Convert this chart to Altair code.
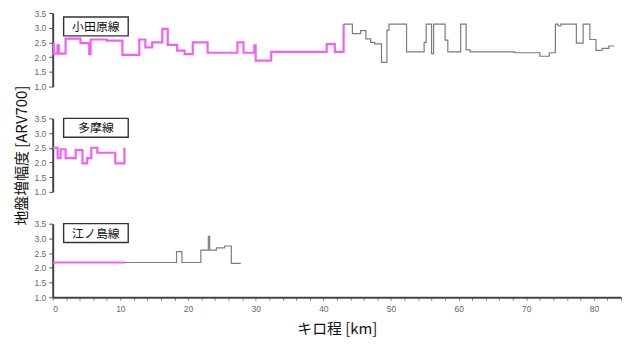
import altair as alt
import pandas as pd

line_names = ["小田原線", "多摩線", "江ノ島線"]

# 小田原線 (pink part, then gray part)
odakyu_pink_km = [0, 0.15, 0.7, 0.9, 1.9, 4.1, 5.4, 5.6, 8.0, 10.3, 12.8, 13.7, 14.7,
                  16.2, 17.0, 18.4, 19.5, 20.7, 22.9, 27.3, 28.2, 29.8, 30.0, 32.3,
                  40.5, 41.7, 43.0]
odakyu_pink_val = [2.45, 2.12, 2.4, 2.12, 2.63, 2.48, 2.1, 2.6, 2.56, 2.08, 2.6, 2.33, 2.5,
                   2.96, 2.42, 2.22, 2.1, 2.5, 2.15, 2.5, 2.15, 2.4, 1.88, 2.18,
                   2.44, 2.18, 3.12]
odakyu_gray_km = [43.0, 44.3, 45.5, 46.3, 47.0, 47.6, 48.6, 49.4, 49.7, 52.3, 54.9, 55.2,
                  56.0, 56.3, 58.0, 58.4, 60.3, 61.1, 61.7, 68.3, 72.0, 73.4, 74.3,
                  74.7, 75.1, 77.4, 78.4, 79.4, 80.3, 81.2, 82.2, 83.0]
odakyu_gray_val = [3.12, 2.8, 2.9, 2.62, 2.5, 2.45, 1.82, 2.92, 3.12, 2.18, 2.5, 3.12,
                   2.12, 3.12, 2.58, 2.18, 3.12, 2.25, 2.18, 2.15, 2.03, 2.15, 3.12,
                   3.06, 3.12, 2.48, 3.12, 2.6, 2.23, 2.3, 2.38, 2.38]

# 多摩線
tama_km = [0, 0.73, 1.17, 1.9, 3.4, 4.4, 5.1, 5.7, 6.6, 9.25, 10.6]
tama_val = [2.5, 2.15, 2.45, 2.15, 2.42, 1.97, 2.15, 2.5, 2.33, 1.97, 2.5]

# 江ノ島線
enoshima_pink_km = [0, 10.7]
enoshima_pink_val = [2.18, 2.18]
enoshima_gray_km = [10.7, 18.3, 19.1, 21.9, 23.0, 23.2, 24.2, 25.4, 26.4, 27.8]
enoshima_gray_val = [2.18, 2.55, 2.18, 2.6, 3.07, 2.6, 2.68, 2.74, 2.15, 2.15]

x_ticks = list(range(0, 85, 2))
y_ticks = [1.0, 1.5, 2.0, 2.5, 3.0, 3.5]

X_DOMAIN = [0, 84]
Y_DOMAIN = [1.0, 3.5]
W, H = 572, 74
PINK = "#f35ef3"
GRAY = "#7c7c7c"
LABEL_FONT = "Liberation Sans"
JP = "Noto Sans CJK JP"


def y_axis(title):
    kw = dict(values=y_ticks, format=".1f", labelFontSize=8.5, labelColor="#666",
              labelFont=LABEL_FONT, tickColor="#555", tickSize=4, domainColor="#444",
              domainWidth=2, grid=False, labelPadding=3, title=title)
    if title:
        kw.update(titleFont=JP, titleFontSize=15, titleFontWeight="normal",
                  titleColor="#111", titlePadding=5)
    return alt.Axis(**kw)


x_axis = alt.Axis(values=x_ticks, format="d",
                  labelExpr="datum.value % 10 === 0 ? datum.label : ''",
                  labelFontSize=8.5, labelColor="#666", labelFont=LABEL_FONT,
                  tickColor="#777", tickSize=3, domainColor="#444", domainWidth=2,
                  grid=False, labelPadding=4, title="キロ程 [km]", titleFont=JP,
                  titleFontSize=15, titleFontWeight="normal", titleColor="#111",
                  titlePadding=9)


def panel(name, segs, box_top, show_x=False, y_title=None):
    layers = []
    for km, val, color, width in segs:
        df = pd.DataFrame({"km": km, "val": val})
        layers.append(
            alt.Chart(df).mark_line(interpolate="step-after", color=color,
                                    strokeWidth=width, clip=True).encode(
                x=alt.X("km:Q", scale=alt.Scale(domain=X_DOMAIN, nice=False, zero=False),
                        axis=x_axis if show_x else None),
                y=alt.Y("val:Q", scale=alt.Scale(domain=Y_DOMAIN, nice=False, zero=False),
                        axis=y_axis(y_title)),
            )
        )
    one = pd.DataFrame({"name": [name]})
    box = alt.Chart(one).mark_rect(fill="white", stroke="#333", strokeWidth=1.4).encode(
        x=alt.value(11), x2=alt.value(76), y=alt.value(box_top), y2=alt.value(box_top + 19))
    label = alt.Chart(one).mark_text(font=JP, fontSize=12, color="#111",
                                     baseline="middle", align="center").encode(
        x=alt.value(43.5), y=alt.value(box_top + 10), text="name:N")
    return alt.layer(*layers, box, label).properties(width=W, height=H)


top = panel(line_names[0], [(odakyu_pink_km, odakyu_pink_val, PINK, 2.2),
                            (odakyu_gray_km, odakyu_gray_val, GRAY, 1.2)], 4)
mid = panel(line_names[1], [(tama_km, tama_val, PINK, 2.2)], 0,
            y_title="地盤増幅度 [ARV700]")
bot = panel(line_names[2], [(enoshima_pink_km, enoshima_pink_val, PINK, 2.2),
                            (enoshima_gray_km, enoshima_gray_val, GRAY, 1.2)], 0,
            show_x=True)

chart = alt.vconcat(top, mid, bot, spacing=32, bounds="flush").properties(
    padding={"left": 6, "top": 0, "right": 0, "bottom": 0}
).configure_view(stroke=None)

chart.save("out.html", embed_options={"renderer": "svg", "actions": False})
